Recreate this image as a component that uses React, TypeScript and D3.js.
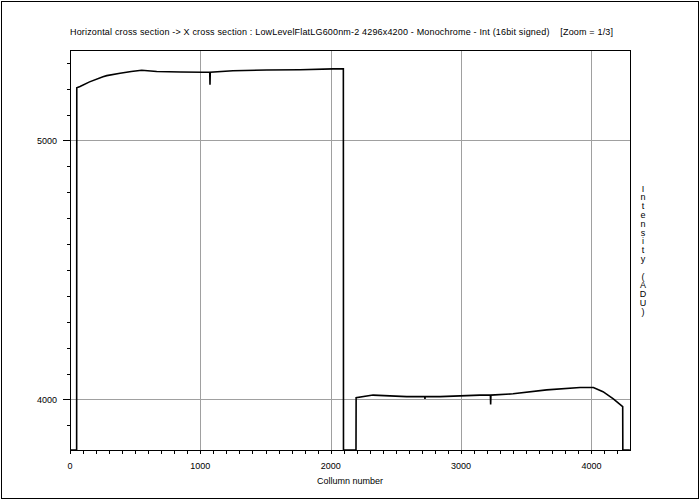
import React from 'react';
import * as d3 from 'd3';

const TITLE = 'Horizontal cross section -> X cross section : LowLevelFlatLG600nm-2 4296x4200 - Monochrome - Int (16bit signed)    [Zoom = 1/3]';
const X_LABEL = 'Collumn number';
const Y_LABEL = 'Intensity (ADU)';
const xMajorTicks = [0, 1000, 2000, 3000, 4000];
const yMajorTicks = [4000, 5000];
const xDomain = [0, 4296];
const yDomain = [3805, 5349];

const columns = [0, 51, 52, 77, 150, 253, 282, 384, 470, 550, 665, 850, 1020, 1072, 1074, 1076, 1250, 1509, 1765, 2018, 2097, 2098, 2194, 2195, 2325, 2583, 2721, 2723, 2725, 2839, 3145, 3225, 3227, 3229, 3399, 3657, 3913, 4015, 4089, 4168, 4219, 4240, 4241, 4295];
const intensity = [0, 0, 5203, 5208, 5226, 5246, 5250, 5259, 5266, 5271, 5266, 5264, 5263, 5263, 5215, 5263, 5269, 5272, 5273, 5276, 5276, 0, 0, 4007, 4017, 4011, 4011, 4002, 4011, 4011, 4017, 4017, 3981, 4017, 4022, 4037, 4046, 4046, 4030, 4002, 3981, 3972, 0, 0];

const W = 700, H = 500;
const L = 70, R = 630, T = 50, B = 450;
const FONT = '"Liberation Sans", Arial, sans-serif';

export default function App() {
  const x = d3.scaleLinear().domain(xDomain).range([L, R]);
  const y = d3.scaleLinear().domain(yDomain).range([B, T]).clamp(true);
  const px = (v: number) => Math.round(v) + 0.5;
  const xMinor = d3.range(0, xDomain[1], 100);
  const yMinor = d3.range(3900, yDomain[1], 100);
  const data = columns.map((c, i) => [c, intensity[i]] as [number, number]);
  const line = d3.line<[number, number]>().x(d => x(d[0])).y(d => y(d[1]));
  const letters = Y_LABEL.split('');
  return (
    <svg width={W} height={H} style={{ position: 'absolute', left: 0, top: 0, background: '#fff' }} fontFamily={FONT}>
      <rect x={0} y={0} width={W} height={H} fill="#fff" />
      <rect x={1.5} y={1.5} width={W - 3} height={H - 3} fill="none" stroke="#000" strokeWidth={1} />
      <text x={L} y={35} fontSize={9} textLength={543} style={{ whiteSpace: 'pre' }} fill="#000">{TITLE}</text>
      {xMajorTicks.filter(t => t > 0).map(t => (
        <line key={'gx' + t} x1={px(x(t))} x2={px(x(t))} y1={T} y2={B} stroke="#a0a0a0" strokeWidth={1} />
      ))}
      {yMajorTicks.map(t => (
        <line key={'gy' + t} x1={L} x2={R} y1={px(y(t))} y2={px(y(t))} stroke="#a0a0a0" strokeWidth={1} />
      ))}
      <path d={line(data) || ''} fill="none" stroke="#000" strokeWidth={1.6} strokeLinejoin="miter" />
      <rect x={px(L)} y={px(T)} width={R - L} height={B - T} fill="none" stroke="#000" strokeWidth={1} />
      {xMinor.map(t => (
        <line key={'tx' + t} x1={px(x(t))} x2={px(x(t))} y1={B} y2={B + 4} stroke="#000" strokeWidth={1} />
      ))}
      {yMinor.map(t => (
        <line key={'ty' + t} x1={L - (yMajorTicks.includes(t) ? 7 : 3)} x2={L} y1={px(y(t))} y2={px(y(t))} stroke="#000" strokeWidth={1} />
      ))}
      {xMajorTicks.map(t => (
        <text key={'lx' + t} x={x(t)} y={468.5} fontSize={9} textAnchor="middle" fill="#000">{t}</text>
      ))}
      {yMajorTicks.map(t => (
        <text key={'ly' + t} x={57} y={y(t) + 3.5} fontSize={9} textAnchor="end" fill="#000">{t}</text>
      ))}
      <text x={(L + R) / 2} y={484} fontSize={9} textAnchor="middle" fill="#000">{X_LABEL}</text>
      {letters.map((ch, i) => (
        <text key={'yl' + i} x={643} y={191.5 + i * 8.8} fontSize={9} textAnchor="middle" fill="#000">{ch}</text>
      ))}
    </svg>
  );
}
